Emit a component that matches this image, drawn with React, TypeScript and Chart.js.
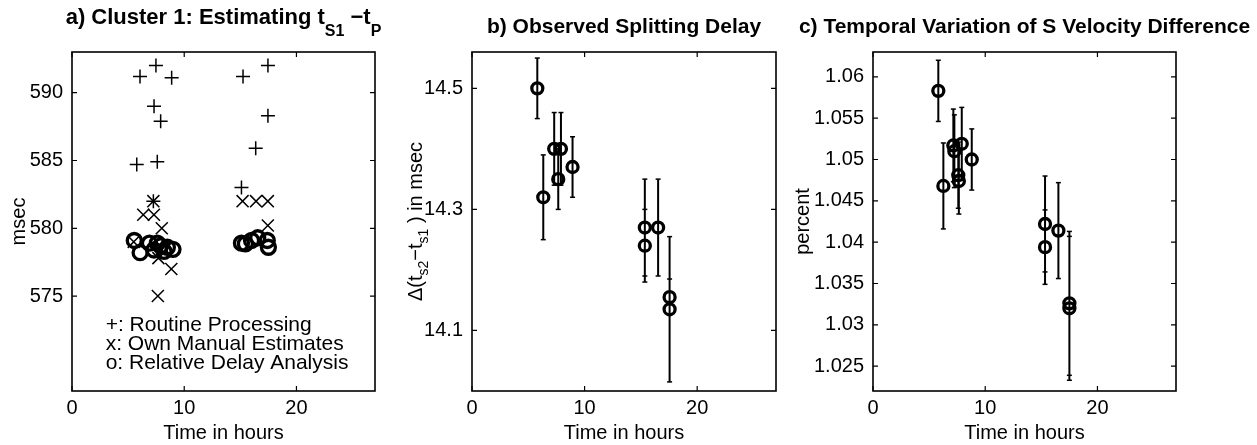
import React, { useEffect, useRef } from 'react';
import { Chart, registerables } from 'chart.js';

Chart.register(...registerables);

const FONT = '"Liberation Sans", Arial, Helvetica, sans-serif';

// ---------- shared axis ----------
const X_MIN = 0;
const X_MAX = 27;
const xTicks = [0, 10, 20];

// ---------- panel a ----------
const aPlusX = [6.06, 7.48, 8.88, 7.31, 7.9, 5.77, 7.6, 7.25, 15.24, 17.46, 16.37, 15.1, 17.46];
const aPlusY = [591.2, 592.0, 591.1, 589.0, 587.9, 584.7, 584.9, 582.0, 591.2, 592.0, 585.9, 583.0, 588.3];
const aCrossX = [6.35, 7.3, 7.25, 8.0, 5.5, 7.7, 8.85, 7.65, 15.2, 16.4, 17.45, 17.45];
const aCrossY = [581.0, 581.0, 582.0, 580.0, 579.0, 577.8, 577.0, 575.0, 582.0, 582.0, 582.0, 580.2];
const aCircleX = [5.55, 6.07, 6.9, 7.3, 7.6, 7.9, 8.2, 8.5, 9.0, 15.1, 15.45, 16.0, 16.55, 17.4, 17.5];
const aCircleY = [579.1, 578.2, 578.9, 578.4, 578.9, 578.7, 578.3, 578.6, 578.45, 578.9, 578.85, 579.1, 579.3, 579.1, 578.6];
const aYTicks = [575, 580, 585, 590];
const aYMin = 568;
const aYMax = 593;
const aNotes = ['+: Routine Processing', 'x: Own Manual Estimates', 'o: Relative Delay Analysis'];
const aNotesX = 3;
const aNotesY = [572.85, 571.45, 570.05];

// ---------- panel b ----------
const bX = [5.8, 6.33, 7.3, 7.9, 7.66, 8.93, 15.35, 15.35, 16.53, 17.55, 17.55];
const bY = [14.5, 14.32, 14.4, 14.4, 14.35, 14.37, 14.27, 14.24, 14.27, 14.155, 14.135];
const bErr = [0.05, 0.07, 0.06, 0.06, 0.05, 0.05, 0.08, 0.06, 0.08, 0.03, 0.12];
const bYTicks = [14.1, 14.3, 14.5];
const bYMin = 14.0;
const bYMax = 14.56;

// ---------- panel c ----------
const cX = [5.82, 6.27, 7.16, 7.25, 7.91, 7.6, 7.65, 8.8, 15.33, 15.33, 16.52, 17.5, 17.5];
const cY = [1.0583, 1.0468, 1.0517, 1.051, 1.0519, 1.0481, 1.0474, 1.05, 1.0422, 1.0394, 1.0414, 1.0326, 1.032];
const cErr = [0.0037, 0.0052, 0.0044, 0.0044, 0.0044, 0.004, 0.004, 0.0037, 0.0058, 0.0045, 0.0058, 0.0087, 0.0087];
const cYTicks = [1.025, 1.03, 1.035, 1.04, 1.045, 1.05, 1.055, 1.06];
const cYTickLabels = ['1.025', '1.03', '1.035', '1.04', '1.045', '1.05', '1.055', '1.06'];
const cYMin = 1.022;
const cYMax = 1.063;

type Seg = { t: string; sub?: boolean };

function pts(xs: number[], ys: number[]) {
  return xs.map((x, i) => ({ x, y: ys[i] }));
}

function errBars(xs: number[], ys: number[], es: number[]) {
  const out: any[] = [];
  xs.forEach((x, i) => {
    out.push({ x, y: ys[i] - es[i] }, { x, y: ys[i] + es[i] }, { x, y: null });
  });
  return out;
}

function drawRich(ctx: CanvasRenderingContext2D, segs: Seg[], cx: number, cy: number, rot: number, size: number, subSize: number, weight: string, subOffset: number) {
  ctx.save();
  ctx.translate(cx, cy);
  ctx.rotate(rot);
  const fMain = `${weight} ${size}px ${FONT}`;
  const fSub = `${weight} ${subSize}px ${FONT}`;
  let total = 0;
  const widths = segs.map((s) => {
    ctx.font = s.sub ? fSub : fMain;
    const w = ctx.measureText(s.t).width;
    total += w;
    return w;
  });
  let x = -total / 2;
  ctx.fillStyle = '#000';
  ctx.textBaseline = 'alphabetic';
  ctx.textAlign = 'left';
  segs.forEach((s, i) => {
    ctx.font = s.sub ? fSub : fMain;
    ctx.fillText(s.t, x, s.sub ? subOffset : 0);
    x += widths[i];
  });
  ctx.restore();
}

const frameTicks = {
  id: 'frameTicks',
  afterDraw(chart: any) {
    const { ctx, chartArea, scales } = chart;
    const { left, right, top, bottom } = chartArea;
    ctx.save();
    ctx.strokeStyle = '#000';
    ctx.lineWidth = 1.6;
    ctx.strokeRect(left, top, right - left, bottom - top);
    ctx.lineWidth = 1.2;
    const L = 5;
    ctx.beginPath();
    for (const t of scales.x.ticks) {
      const p = scales.x.getPixelForValue(t.value);
      ctx.moveTo(p, bottom);
      ctx.lineTo(p, bottom - L);
      ctx.moveTo(p, top);
      ctx.lineTo(p, top + L);
    }
    for (const t of scales.y.ticks) {
      const p = scales.y.getPixelForValue(t.value);
      ctx.moveTo(left, p);
      ctx.lineTo(left + L, p);
      ctx.moveTo(right, p);
      ctx.lineTo(right - L, p);
    }
    ctx.stroke();
    ctx.restore();
  },
};

function makeRich(cfg: {
  title: Seg[];
  titleSize: number;
  titleSubSize: number;
  titleBaseline: number;
  titleSubOffset: number;
  yLabel?: Seg[];
  yLabelX?: number;
  notes?: string[];
  notesX?: number;
  notesY?: number[];
}) {
  return {
    id: 'richText',
    afterDraw(chart: any) {
      const { ctx, chartArea, scales } = chart;
      const cx = (chartArea.left + chartArea.right) / 2;
      drawRich(ctx, cfg.title, cx, cfg.titleBaseline, 0, cfg.titleSize, cfg.titleSubSize, 'bold', cfg.titleSubOffset);
      if (cfg.yLabel) {
        drawRich(ctx, cfg.yLabel, cfg.yLabelX as number, (chartArea.top + chartArea.bottom) / 2, -Math.PI / 2, 20, 14, 'normal', 6);
      }
      if (cfg.notes) {
        ctx.save();
        ctx.font = `21px ${FONT}`;
        ctx.fillStyle = '#000';
        ctx.textBaseline = 'middle';
        ctx.textAlign = 'left';
        cfg.notes.forEach((line, i) => {
          ctx.fillText(line, scales.x.getPixelForValue(cfg.notesX), scales.y.getPixelForValue((cfg.notesY as number[])[i]));
        });
        ctx.restore();
      }
    },
  };
}

function makeScales(o: {
  yMin: number;
  yMax: number;
  yTicks: number[];
  yLabels?: string[];
  yTitle?: string;
  yTitlePad?: number;
  yWidth: number;
}) {
  return {
    x: {
      type: 'linear',
      min: X_MIN,
      max: X_MAX,
      afterBuildTicks: (s: any) => {
        s.ticks = xTicks.map((v) => ({ value: v }));
      },
      afterFit: (s: any) => {
        s.height = 54;
      },
      grid: { display: false, drawTicks: false },
      border: { display: false },
      ticks: {
        autoSkip: false,
        maxRotation: 0,
        padding: 5,
        color: '#000',
        font: { size: 20, family: FONT },
        callback: (v: any) => String(v),
      },
      title: {
        display: true,
        text: 'Time in hours',
        color: '#000',
        font: { size: 20, family: FONT },
        padding: { top: 0, bottom: 0 },
      },
    },
    y: {
      type: 'linear',
      min: o.yMin,
      max: o.yMax,
      afterBuildTicks: (s: any) => {
        s.ticks = o.yTicks.map((v) => ({ value: v }));
      },
      afterFit: (s: any) => {
        s.width = o.yWidth;
      },
      grid: { display: false, drawTicks: false },
      border: { display: false },
      ticks: {
        autoSkip: false,
        padding: 9,
        color: '#000',
        font: { size: 20, family: FONT },
        callback: (v: any, i: number) => (o.yLabels ? o.yLabels[i] : String(v)),
      },
      title: {
        display: !!o.yTitle,
        text: o.yTitle || '',
        color: '#000',
        font: { size: 20, family: FONT },
        padding: { top: o.yTitlePad ?? 0, bottom: 0 },
      },
    },
  };
}

const circleStyle = (r: number) => ({
  pointStyle: 'circle',
  pointRadius: r,
  pointHoverRadius: r,
  pointBorderWidth: 3.3,
  pointHoverBorderWidth: 3.3,
  borderColor: '#000',
  backgroundColor: 'rgba(0,0,0,0)',
  pointBackgroundColor: 'rgba(0,0,0,0)',
  pointBorderColor: '#000',
  showLine: false,
});

const errStyle = {
  type: 'line',
  showLine: true,
  spanGaps: false,
  pointStyle: 'line',
  pointRadius: 2.5,
  pointHoverRadius: 2.5,
  pointBorderWidth: 1.5,
  pointBorderColor: '#000',
  borderColor: '#000',
  borderWidth: 2,
  fill: false,
};

export default function App() {
  const refA = useRef<HTMLCanvasElement>(null);
  const refB = useRef<HTMLCanvasElement>(null);
  const refC = useRef<HTMLCanvasElement>(null);

  useEffect(() => {
    Chart.defaults.font.family = FONT;
    Chart.defaults.color = '#000';

    const common = {
      animation: false,
      responsive: false,
      events: [],
      plugins: { legend: { display: false }, tooltip: { enabled: false }, title: { display: false } },
    };

    const chartA = new Chart(refA.current as HTMLCanvasElement, {
      type: 'scatter',
      data: {
        datasets: [
          {
            data: pts(aPlusX, aPlusY),
            pointStyle: 'cross',
            pointRadius: 7,
            pointHoverRadius: 7,
            pointBorderWidth: 1.5,
            borderColor: '#000',
            pointBorderColor: '#000',
            backgroundColor: '#000',
          },
          {
            data: pts(aCrossX, aCrossY),
            pointStyle: 'crossRot',
            pointRadius: 8.5,
            pointHoverRadius: 8.5,
            pointBorderWidth: 1.5,
            borderColor: '#000',
            pointBorderColor: '#000',
            backgroundColor: '#000',
          },
          { data: pts(aCircleX, aCircleY), ...circleStyle(7) },
        ] as any,
      },
      options: {
        ...common,
        layout: { padding: { left: 0, right: 45, top: 52, bottom: 0 } },
        scales: makeScales({ yMin: aYMin, yMax: aYMax, yTicks: aYTicks, yTitle: 'msec', yTitlePad: 7, yWidth: 72 }) as any,
      } as any,
      plugins: [
        frameTicks,
        makeRich({
          title: [{ t: 'a) Cluster 1: Estimating t' }, { t: 'S1', sub: true }, { t: ' \u2212t' }, { t: 'P', sub: true }],
          titleSize: 22,
          titleSubSize: 16,
          titleBaseline: 24,
          titleSubOffset: 12,
          notes: aNotes,
          notesX: aNotesX,
          notesY: aNotesY,
        }),
      ],
    });

    const chartB = new Chart(refB.current as HTMLCanvasElement, {
      type: 'scatter',
      data: {
        datasets: [
          { data: pts(bX, bY), ...circleStyle(5.5) },
          { data: errBars(bX, bY, bErr), ...errStyle },
        ] as any,
      },
      options: {
        ...common,
        layout: { padding: { left: 0, right: 44, top: 52, bottom: 0 } },
        scales: makeScales({ yMin: bYMin, yMax: bYMax, yTicks: bYTicks, yWidth: 72 }) as any,
      } as any,
      plugins: [
        frameTicks,
        makeRich({
          title: [{ t: 'b) Observed Splitting Delay' }],
          titleSize: 21,
          titleSubSize: 15,
          titleBaseline: 33,
          titleSubOffset: 0,
          yLabel: [{ t: '\u0394(t' }, { t: 's2', sub: true }, { t: '\u2212t' }, { t: 's1', sub: true }, { t: ' ) in msec' }],
          yLabelX: 22,
        }),
      ],
    });

    const chartC = new Chart(refC.current as HTMLCanvasElement, {
      type: 'scatter',
      data: {
        datasets: [
          { data: pts(cX, cY), ...circleStyle(5.5) },
          { data: errBars(cX, cY, cErr), ...errStyle },
        ] as any,
      },
      options: {
        ...common,
        layout: { padding: { left: 0, right: 81, top: 52, bottom: 0 } },
        scales: makeScales({
          yMin: cYMin,
          yMax: cYMax,
          yTicks: cYTicks,
          yLabels: cYTickLabels,
          yTitle: 'percent',
          yTitlePad: 11,
          yWidth: 93,
        }) as any,
      } as any,
      plugins: [
        frameTicks,
        makeRich({
          title: [{ t: 'c) Temporal Variation of S Velocity Difference' }],
          titleSize: 21,
          titleSubSize: 15,
          titleBaseline: 33,
          titleSubOffset: 0,
        }),
      ],
    });

    return () => {
      chartA.destroy();
      chartB.destroy();
      chartC.destroy();
    };
  }, []);

  const cv = (left: number): React.CSSProperties => ({ position: 'absolute', left, top: 0, display: 'block' });

  return (
    <div style={{ position: 'fixed', left: 0, top: 0, width: 1257, height: 445, background: '#fff', overflow: 'hidden' }}>
      <canvas ref={refA} width={420} height={445} style={cv(0)} />
      <canvas ref={refB} width={420} height={445} style={cv(400)} />
      <canvas ref={refC} width={477} height={445} style={cv(780)} />
    </div>
  );
}
